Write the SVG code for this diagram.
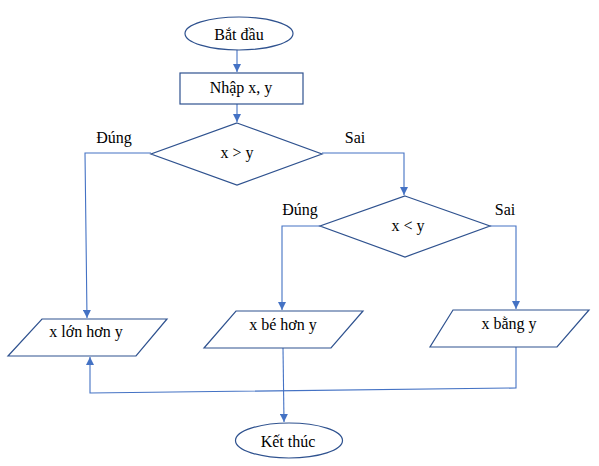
<svg xmlns="http://www.w3.org/2000/svg" width="599" height="466" viewBox="0 0 599 466">
<style>
.s{fill:#fff;stroke:#2F528F;stroke-width:1.2}
.c{fill:none;stroke:#4472C4;stroke-width:1.1}
text{font-family:"Liberation Serif","Times New Roman",serif;font-size:16px;fill:#000}
.m{text-anchor:middle}
</style>
<defs>
<marker id="a" viewBox="0 0 10 10" refX="10" refY="5" markerWidth="8" markerHeight="8" markerUnits="userSpaceOnUse" orient="auto">
<path d="M0,0 L10,5 L0,10 z" fill="#4472C4"/>
</marker>
</defs>
<rect width="599" height="466" fill="#fff"/>
<g id="connectors">
<path class="c" d="M237,50 L237,72" marker-end="url(#a)"/>
<path class="c" d="M237,104 L237,122" marker-end="url(#a)"/>
<path class="c" d="M151,153 L85,153 L87,318" marker-end="url(#a)"/>
<path class="c" d="M322,153 L404,153 L404,195" marker-end="url(#a)"/>
<path class="c" d="M320,226 L282,226 L282,310" marker-end="url(#a)"/>
<path class="c" d="M490,226 L516,226 L516,309" marker-end="url(#a)"/>
<path class="c" d="M283,348 L284,422" marker-end="url(#a)"/>
<path class="c" d="M516,347 L516,388 L90,393 L90,357" marker-end="url(#a)"/>
</g>
<g id="start">
<ellipse class="s" cx="239" cy="33.5" rx="54" ry="16.5"/>
<text class="m" x="239" y="40">Bắt đầu</text>
</g>
<g id="input">
<rect class="s" x="180" y="73" width="123" height="31"/>
<text class="m" x="241" y="93">Nhập x, y</text>
</g>
<g id="cond1">
<polygon class="s" points="237,123 322,154 237,185 151,154"/>
<text class="m" x="237" y="158">x &gt; y</text>
</g>
<g id="cond2">
<polygon class="s" points="405,196 490,226 405,257 320,226"/>
<text class="m" x="408" y="231">x &lt; y</text>
</g>
<g id="out1">
<polygon class="s" points="42,319 167,319 136,356 8,356"/>
<text class="m" x="86" y="337">x lớn hơn y</text>
</g>
<g id="out2">
<polygon class="s" points="236,311 363,311 331,348 204,348"/>
<text class="m" x="283" y="330">x bé hơn y</text>
</g>
<g id="out3">
<polygon class="s" points="453,310 589,310 557,347 430,347"/>
<text class="m" x="509" y="329">x bằng y</text>
</g>
<g id="end">
<ellipse class="s" cx="289" cy="440.5" rx="53.5" ry="17.5"/>
<text class="m" x="288" y="447">Kết thúc</text>
</g>
<g id="labels">
<text class="m" x="114" y="143">Đúng</text>
<text class="m" x="355" y="143">Sai</text>
<text class="m" x="300" y="215">Đúng</text>
<text class="m" x="505" y="215">Sai</text>
</g>
</svg>
